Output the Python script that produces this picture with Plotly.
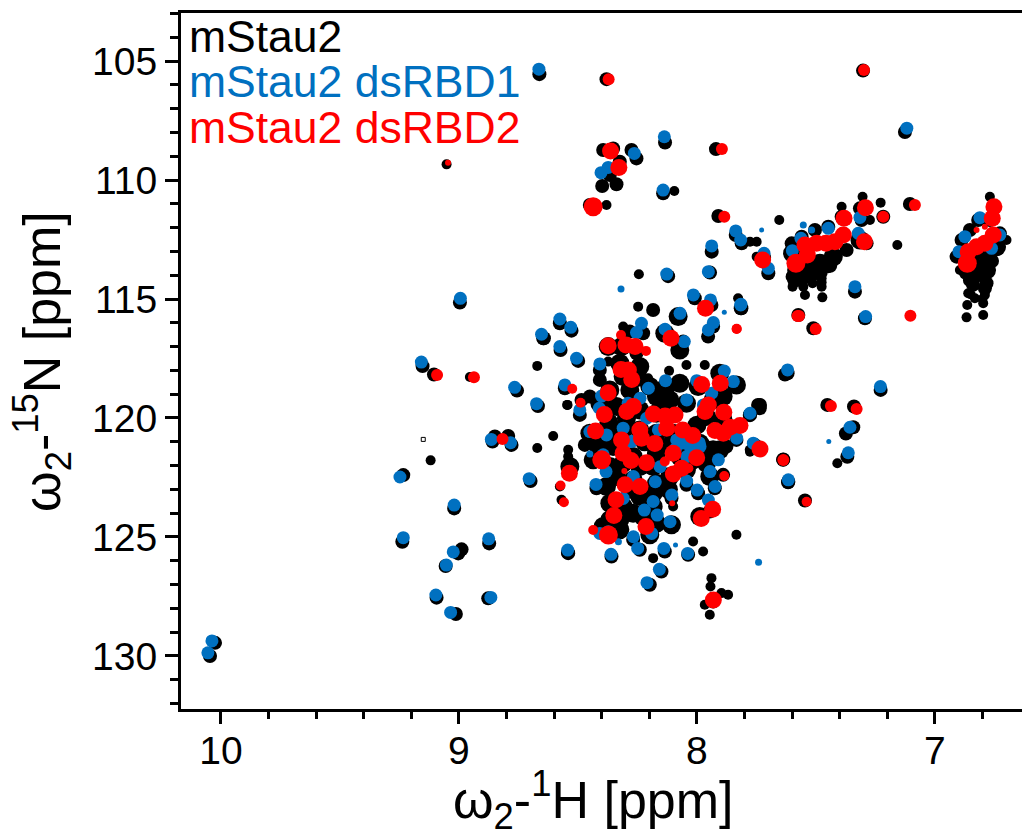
import plotly.graph_objects as go

# peak positions: (1H ppm, 15N ppm)
black_large = [
(8.079,115.74),(8.135,116.44),(8.072,117.14),(8.373,117.00),(8.317,117.00),(8.310,118.26),(8.324,117.70),(8.240,117.84),
(8.282,118.82),(8.198,118.68),(8.170,119.10),(8.366,118.82),(8.408,119.38),(8.380,119.66),(8.338,119.52),(8.296,120.01),
(8.240,119.66),(8.170,119.80),(8.128,118.68),(8.072,118.54),(7.995,118.68),(7.904,118.12),(7.834,118.61),(7.932,119.24),
(7.890,119.10),(8.044,119.38),(8.114,119.24),(7.960,119.94),(7.890,120.08),(7.932,121.34),(7.960,121.34),
(7.904,121.34),(8.450,120.64),(8.380,120.78),(8.415,121.20),(8.310,120.50),(8.240,120.50),(8.170,120.64),(8.100,120.64),
(8.044,120.78),(7.988,121.06),(8.072,121.62),(8.016,121.76),(8.170,121.48),(8.268,121.62),(8.352,121.20),(8.436,121.76),
(8.366,122.04),(8.310,121.90),(8.240,122.04),(8.184,122.04),(8.114,122.46),(8.044,122.18),(7.960,121.90),(7.946,122.46),
(8.170,122.74),(8.268,122.60),(8.338,122.46),(8.380,122.88),(8.366,123.58),(8.310,123.72),(8.240,123.30),(8.184,123.16),
(8.184,123.72),(8.268,124.00),(8.226,124.14),(8.170,124.42),(8.107,124.49),(8.324,124.28),(8.366,124.28),(8.394,124.56),
(8.324,124.70),(8.198,124.91),(7.988,124.14),(8.534,122.04),
(8.250,118.30),(8.140,119.60),(8.220,121.00),(8.120,121.20),(8.000,120.30),(8.370,120.20),(8.280,123.00),(8.120,123.00),
(7.598,113.08),(7.539,113.50),(7.483,113.50),(7.427,113.22),(7.315,112.52),(7.581,113.78),
(6.741,112.80),(6.783,113.08),(6.853,113.36),(6.783,113.78),
]
black_medium = [
(8.184,115.46),(8.009,114.97),(7.939,115.25),(7.813,115.39),(7.953,116.58),(7.932,116.16),(8.058,116.79),(8.282,116.37),
(8.226,116.44),(8.254,117.28),(8.408,117.98),(8.408,118.40),(8.450,119.10),(8.485,119.24),(8.492,119.87),(7.743,119.45),
(7.778,119.87),(7.736,119.59),(7.834,120.92),(7.876,121.20),(8.471,121.13),(7.890,122.39),(7.925,122.95),(7.995,123.16),
(8.044,122.81),(8.422,122.95),(8.107,123.37),(7.946,123.93),(8.268,125.12),(8.240,125.54),(8.135,125.61),(8.037,125.75),
(8.359,125.82),(8.541,125.68),(8.149,126.45),(8.198,127.01),(7.932,127.71),(7.638,121.76),(7.617,122.70),(7.619,118.12),
(8.576,116.02),(8.527,116.33),(8.573,117.14),(8.499,117.60),(8.643,116.65),(8.555,118.75),
(7.837,112.31),(7.812,112.66),(7.718,113.25),(7.700,113.92),(7.602,112.66),(7.560,112.38),(7.504,112.10),(7.448,111.96),
(7.392,111.54),(7.315,111.19),(7.308,111.68),(7.217,111.54),(7.105,111.01),(7.371,112.94),(7.287,112.66),(7.598,114.06),
(7.580,114.20),(7.530,113.95),(7.480,113.90),(7.440,113.60),
(7.336,114.69),(7.294,115.81),(7.574,115.67),(7.511,116.23),(7.816,115.39),
(6.769,111.68),(6.818,111.68),(6.853,112.10),(6.888,112.52),(6.909,113.22),(6.727,112.24),(6.839,113.78),(6.783,114.34),
(6.853,114.20),(6.840,114.40),(6.790,114.55),(6.870,113.90),(6.760,113.40),(6.820,113.60),(6.820,114.00),
(8.662,105.55),(8.380,105.76),(8.394,108.74),(8.352,108.67),(8.275,108.74),(8.254,109.09),(8.324,109.23),(8.366,109.79),
(8.398,110.25),(8.338,110.18),(8.134,108.42),(8.142,110.56),(8.450,111.05),(7.938,113.01),(8.121,114.04),
(7.945,113.89),(7.920,108.70),(7.910,111.51),(7.302,105.40),(7.126,107.98),
(8.996,115.15),(9.153,117.82),(9.105,118.17),(8.756,118.85),(8.668,119.50),(8.849,120.78),(8.793,120.76),(8.859,120.99),
(8.779,121.13),(9.234,122.40),(8.699,122.65),(9.020,123.80),(9.238,125.20),(8.873,125.27),(9.003,125.69),(8.989,125.52),
(9.056,126.22),(8.542,125.66),(9.094,127.55),(8.877,127.58),(9.013,128.24),(8.646,116.65),
(7.630,118.17),(7.228,118.82),(7.452,119.45),(7.340,119.52),(7.735,119.45),(7.777,119.88),(7.374,120.65),(7.343,120.39),
(7.368,121.63),(7.637,121.74),(7.616,122.68),(7.546,123.47),(7.756,121.14),
(10.025,129.45),(10.046,130.00),
]
black_small = [
(7.827,114.97),(8.310,116.16),(8.373,117.63),(8.205,118.33),(8.544,119.45),(8.117,118.02),(8.044,117.77),(7.967,117.77),
(7.778,121.34),(8.100,123.72),(7.974,125.61),(8.016,125.19),(8.184,125.89),(7.834,124.91),(7.939,126.73),(7.943,127.08),
(7.869,127.43),(7.897,127.36),(7.967,127.85),(7.946,128.27),(8.541,121.34),(8.541,121.62),(8.569,123.44),(8.576,122.88),
(8.247,115.32),(8.244,113.96),
(7.749,112.59),(7.777,112.59),(7.749,113.22),(7.654,111.68),(7.392,111.12),(7.304,110.70),(7.273,111.68),(7.228,110.95),
(7.158,112.73),(7.598,114.48),(7.553,114.06),(7.553,114.48),(7.546,114.83),(7.514,114.34),(7.476,114.13),(7.476,114.48),
(7.448,113.71),(7.473,114.93),(7.598,114.25),(7.553,113.90),(7.553,114.25),(7.514,114.10),(7.476,114.30),(7.514,113.80),(7.476,113.85),
(6.769,110.70),(6.762,111.12),(6.699,112.52),(6.860,114.76),(6.864,115.25),(6.832,114.97),(6.790,114.83),(6.797,115.18),
(6.797,115.67),(6.867,115.77),(6.895,113.78),(6.850,114.80),(6.800,115.00),
(8.095,110.46),(8.380,111.05),(9.052,109.34),(8.954,118.28),(8.671,117.81),(8.545,119.45),(8.604,120.76),(8.671,121.26),
(9.119,121.78),(7.777,121.42),(7.410,121.90),
]
black_open = [(9.150,120.90)]

blue_peaks = [
(8.576,115.84),(8.530,116.19),(8.576,117.00),(8.506,117.49),(8.653,116.48),(8.408,117.73),(8.555,118.61),(8.015,114.83),
(7.943,115.04),(7.815,115.22),(8.071,115.60),(7.931,115.99),(7.952,116.30),(8.134,116.27),(8.053,116.79),(8.254,116.41),
(8.233,116.02),(7.619,117.98),(7.885,118.03),(7.847,118.47),(8.132,118.43),(8.001,118.43),(7.938,118.96),(8.043,119.24),
(8.204,118.75),(8.239,119.17),(8.289,119.38),(8.401,119.08),(8.410,119.59),(7.973,119.45),(7.777,119.80),(8.492,119.66),
(8.380,120.71),(8.450,120.57),(8.310,120.43),(8.211,120.01),(8.162,120.50),(8.085,120.92),(8.029,121.20),(7.987,121.20),
(8.043,121.62),(7.763,121.06),(7.833,120.85),(7.910,121.76),(7.945,122.25),(8.394,121.55),(8.317,121.48),(8.275,120.99),
(8.155,122.05),(8.382,122.25),(8.267,122.46),(8.043,122.65),(7.924,122.88),(7.999,123.03),(8.424,122.79),(8.175,122.68),
(7.616,122.60),(8.106,123.24),(7.952,123.45),(8.310,123.38),(8.184,123.51),(8.221,123.87),(8.167,124.08),(8.113,124.36),
(8.190,124.85),(8.267,124.99),(8.372,124.78),(8.408,124.85),(8.249,125.48),(8.139,125.48),(8.039,125.69),(8.361,125.73),
(8.543,125.55),(8.158,126.36),(8.210,126.92),(8.060,121.05),(8.000,121.40),(7.990,121.05),(8.090,121.30),
(7.837,112.14),(7.816,112.52),(7.718,113.08),(7.700,113.71),(7.599,112.97),(7.563,112.45),(7.448,112.03),(7.315,111.57),
(7.322,112.24),(7.336,114.48),(7.816,115.25),(7.291,115.74),(6.811,111.58),(6.874,112.38),(6.899,113.01),(6.727,112.31),
(6.762,112.87),
(8.664,105.34),(8.137,108.18),(8.263,108.88),(8.403,109.69),(8.373,109.47),(8.142,110.42),(7.938,112.77),(8.127,113.95),
(7.952,113.85),(7.118,107.82),
(8.994,114.97),(9.158,117.65),(8.766,118.71),(8.674,119.40),(8.864,120.90),(8.783,121.04),(9.248,122.48),(8.705,122.55),
(9.020,123.66),(9.234,125.03),(8.875,125.08),(9.024,125.63),(9.053,126.18),(9.097,127.44),(8.866,127.54),(9.035,128.17),
(7.229,118.68),(7.357,120.39),(7.364,121.46),(10.038,129.37),(10.055,129.87),
]
blue_small = [(7.553,111.89),(7.518,112.10),(8.450,121.51),(8.330,125.20),(7.741,126.06),(8.319,114.58)]
blue_tiny = [(8.090,125.34),(7.885,115.56),(7.728,112.10),(7.446,120.99)]

red_peaks = [
(7.964,115.39),(8.109,116.65),(8.373,116.96),(8.298,116.93),(8.260,117.00),(8.319,117.96),(8.288,117.98),
(8.274,118.38),(8.373,118.94),(8.389,119.85),(8.295,119.73),(8.267,119.52),(8.183,119.83),(8.134,119.92),(8.092,119.87),
(8.127,120.43),(7.980,118.59),(7.902,118.54),(7.952,119.45),(7.966,119.73),(7.887,119.76),(8.426,120.55),(8.240,120.51),
(8.233,120.85),(8.177,121.07),(8.317,120.92),(8.310,121.48),(8.277,121.79),(8.060,120.50),(8.018,120.74),(7.924,120.53),
(7.889,120.64),(7.861,120.39),(7.819,120.32),(7.735,121.30),(8.212,121.88),(8.100,121.48),(8.001,121.67),(8.064,122.11),
(8.099,122.35),(8.536,122.32),(8.302,122.81),(8.239,122.88),(8.340,123.44),(8.349,124.10),(8.214,124.56),(7.934,123.84),
(7.982,124.22),(7.931,127.65),(7.724,113.36),(8.363,108.78),(8.328,109.47),
(7.536,113.15),(7.546,112.73),(7.497,112.66),(7.458,112.66),(7.420,112.59),(7.385,112.31),
(7.382,111.61),(7.292,111.16),(7.296,112.59),
(6.860,113.01),(6.825,112.80),(6.790,112.66),(6.755,112.31),(6.759,111.61),(6.752,111.12),
]
red_isolated = [
(7.577,115.71),(7.885,111.54),(7.217,111.54),(7.084,111.05),(7.571,115.71),(7.501,116.26),(7.103,115.70),
(8.371,105.76),(7.298,105.38),(7.895,108.70),(9.092,118.19),(8.937,118.29),(8.817,120.88),(7.437,119.50),(7.329,119.62),(7.637,121.77),
]
red_large = [(8.400,121.76),(8.372,124.92),(7.584,113.50),(6.864,113.50),(8.436,111.12)]
red_small = [
(7.833,116.25),(8.319,116.51),(8.214,117.18),(8.524,118.77),(8.489,119.36),(8.135,121.83),(8.036,122.11),(7.885,122.44),
(8.573,122.84),(8.559,123.54),(8.436,124.71),(7.833,116.26),(7.637,121.79),(7.539,123.52),
]
red_tiny = [(8.305,122.23),(8.104,123.58),(9.046,109.27),(6.825,112.10),(6.790,111.96)]

legend_labels = ["mStau2", "mStau2 dsRBD1", "mStau2 dsRBD2"]
x_tick_labels = [10, 9, 8, 7]
y_tick_labels = [105, 110, 115, 120, 125, 130]
x_title = "ω<sub>2</sub>-<sup>1</sup>H [ppm]"
y_title = "ω<sub>2</sub>-<sup>15</sup>N [ppm]"

BLACK, BLUE, RED = "#000000", "#0070C0", "#FF0000"
FONT = "Liberation Sans, Arial, sans-serif"

fig = go.Figure()


def add(peaks, color, size):
    fig.add_trace(go.Scatter(
        x=[p[0] for p in peaks], y=[p[1] for p in peaks], mode="markers",
        marker=dict(color=color, size=size, symbol="circle", line=dict(width=0)),
        showlegend=False, hoverinfo="skip"))


add(black_large, BLACK, 19)
add(black_medium, BLACK, 14)
add(black_small, BLACK, 10)
fig.add_trace(go.Scatter(x=[p[0] for p in black_open], y=[p[1] for p in black_open], mode="markers",
                         marker=dict(color=BLACK, size=4, symbol="square-open", line=dict(width=1, color=BLACK)),
                         showlegend=False, hoverinfo="skip"))
add(blue_peaks, BLUE, 13)
add(blue_small, BLUE, 7)
add(blue_tiny, BLUE, 5)
add(red_peaks, RED, 17)
add(red_isolated, RED, 12)
add(red_large, RED, 19)
add(red_small, RED, 10)
add(red_tiny, RED, 6)

fig.update_layout(
    width=1022, height=834, autosize=False,
    margin=dict(l=181, r=0, t=13, b=125),
    paper_bgcolor="white", plot_bgcolor="white",
    font=dict(family=FONT, color="black", size=39),
    xaxis=dict(
        range=[10.168, 6.634], tickvals=x_tick_labels, ticks="outside", ticklen=12, tickwidth=3,
        tickcolor="black", showline=True, linewidth=3, linecolor="black", mirror=True,
        showgrid=False, zeroline=False, tickfont=dict(size=39), ticklabelstandoff=-7,
        minor=dict(dtick=0.2, tick0=0, ticks="outside", ticklen=7, tickwidth=3, tickcolor="black", showgrid=False),
    ),
    yaxis=dict(
        range=[132.23, 102.98], tickvals=y_tick_labels, ticks="outside", ticklen=13, tickwidth=3,
        tickcolor="black", showline=True, linewidth=3, linecolor="black",
        showgrid=False, zeroline=False, tickfont=dict(size=39),
        minor=dict(dtick=1, tick0=0, ticks="outside", ticklen=8, tickwidth=3, tickcolor="black", showgrid=False),
    ),
)

fig.add_annotation(text=x_title, xref="paper", yref="paper", x=0.4905, y=-0.1307, xanchor="center", yanchor="middle",
                   showarrow=False, font=dict(size=52, family=FONT))
fig.add_annotation(text=y_title, xref="paper", yref="paper", x=-0.1653, y=0.5, xanchor="center", yanchor="middle",
                   textangle=-90, showarrow=False, font=dict(size=52, family=FONT))

for i, (label, color) in enumerate(zip(legend_labels, [BLACK, BLUE, RED])):
    fig.add_annotation(text=label, xref="paper", yref="paper", x=0.0, y=1 - (-1 + 45.5 * i) / 696,
                       xanchor="left", yanchor="top", xshift=8, showarrow=False,
                       font=dict(size=44.5, color=color, family=FONT), borderpad=0, borderwidth=0)

fig.write_html("out.html", post_script="document.body.style.margin='0';", config={"displayModeBar": False})
